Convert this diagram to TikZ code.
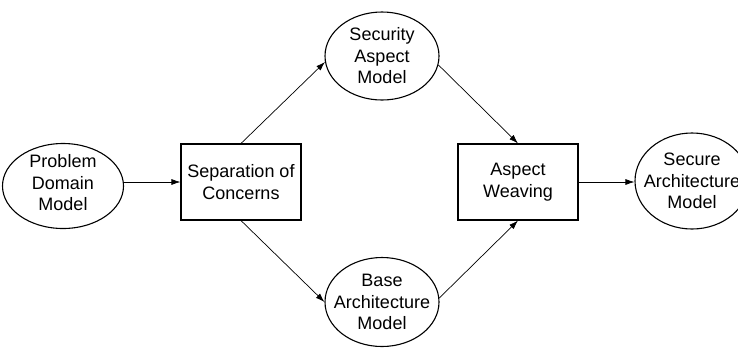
\documentclass[tikz,border=0pt]{standalone}
\usepackage{fontspec}
\setmainfont{Liberation Sans}
\usetikzlibrary{shapes.geometric, arrows.meta, positioning}

\begin{document}
\begin{tikzpicture}[x=1pt, y=-1pt,
  model/.style={draw, line width=1.1pt, ellipse, inner sep=0pt},
  proc/.style={draw, line width=1.1pt, rectangle, minimum width=120pt, minimum height=76pt, inner sep=0pt},
  txt/.style={align=center, inner sep=0pt, font=\fontsize{18}{21.5}\selectfont},
  flow/.style={line width=0.7pt, -{Latex[length=9pt,width=6pt]}}]
\useasboundingbox (0,0) rectangle (738,349);

\coordinate (P) at (63,186);
\coordinate (S) at (241,182);
\coordinate (A) at (382,56);
\coordinate (B) at (382,302);
\coordinate (W) at (518,182);
\coordinate (R) at (692,181);

% ellipses are drawn empty, the text sits on top
\node[model, minimum width=121pt, minimum height=85pt] (pdm) at (P) {};
\node[txt] (pdm-txt) at (63,183) {Problem\\Domain\\Model};

\node[proc] (sep) at (S) {};
\node[txt] (sep-txt) at (S) {Separation of\\Concerns};

\node[model, minimum width=114pt, minimum height=88pt] (sec) at (A) {};
\node[txt] (sec-txt) at (A) {Security\\Aspect\\Model};

\node[model, minimum width=114pt, minimum height=89pt] (base) at (B) {};
\node[txt] (base-txt) at (B) {Base\\Architecture\\Model};

\node[proc] (weave) at (W) {};
\node[txt] (weave-txt) at (W) {Aspect\\Weaving};

\node[model, minimum width=114pt, minimum height=96pt] (secure) at (R) {};
\node[txt] (secure-txt) at (R) {Secure\\Architecture\\Model};

\draw[flow] (pdm.east |- sep.west) -- (sep.west);
\draw[flow] (sep.north) -- (sec.186);
\draw[flow] (sep.south) -- (base.west);
\draw[flow] (sec.351) -- (weave.north);
\draw[flow] (base.4) -- (weave.south);
\draw[flow] (weave.east) -- (weave.east -| secure.west);
\end{tikzpicture}
\end{document}
